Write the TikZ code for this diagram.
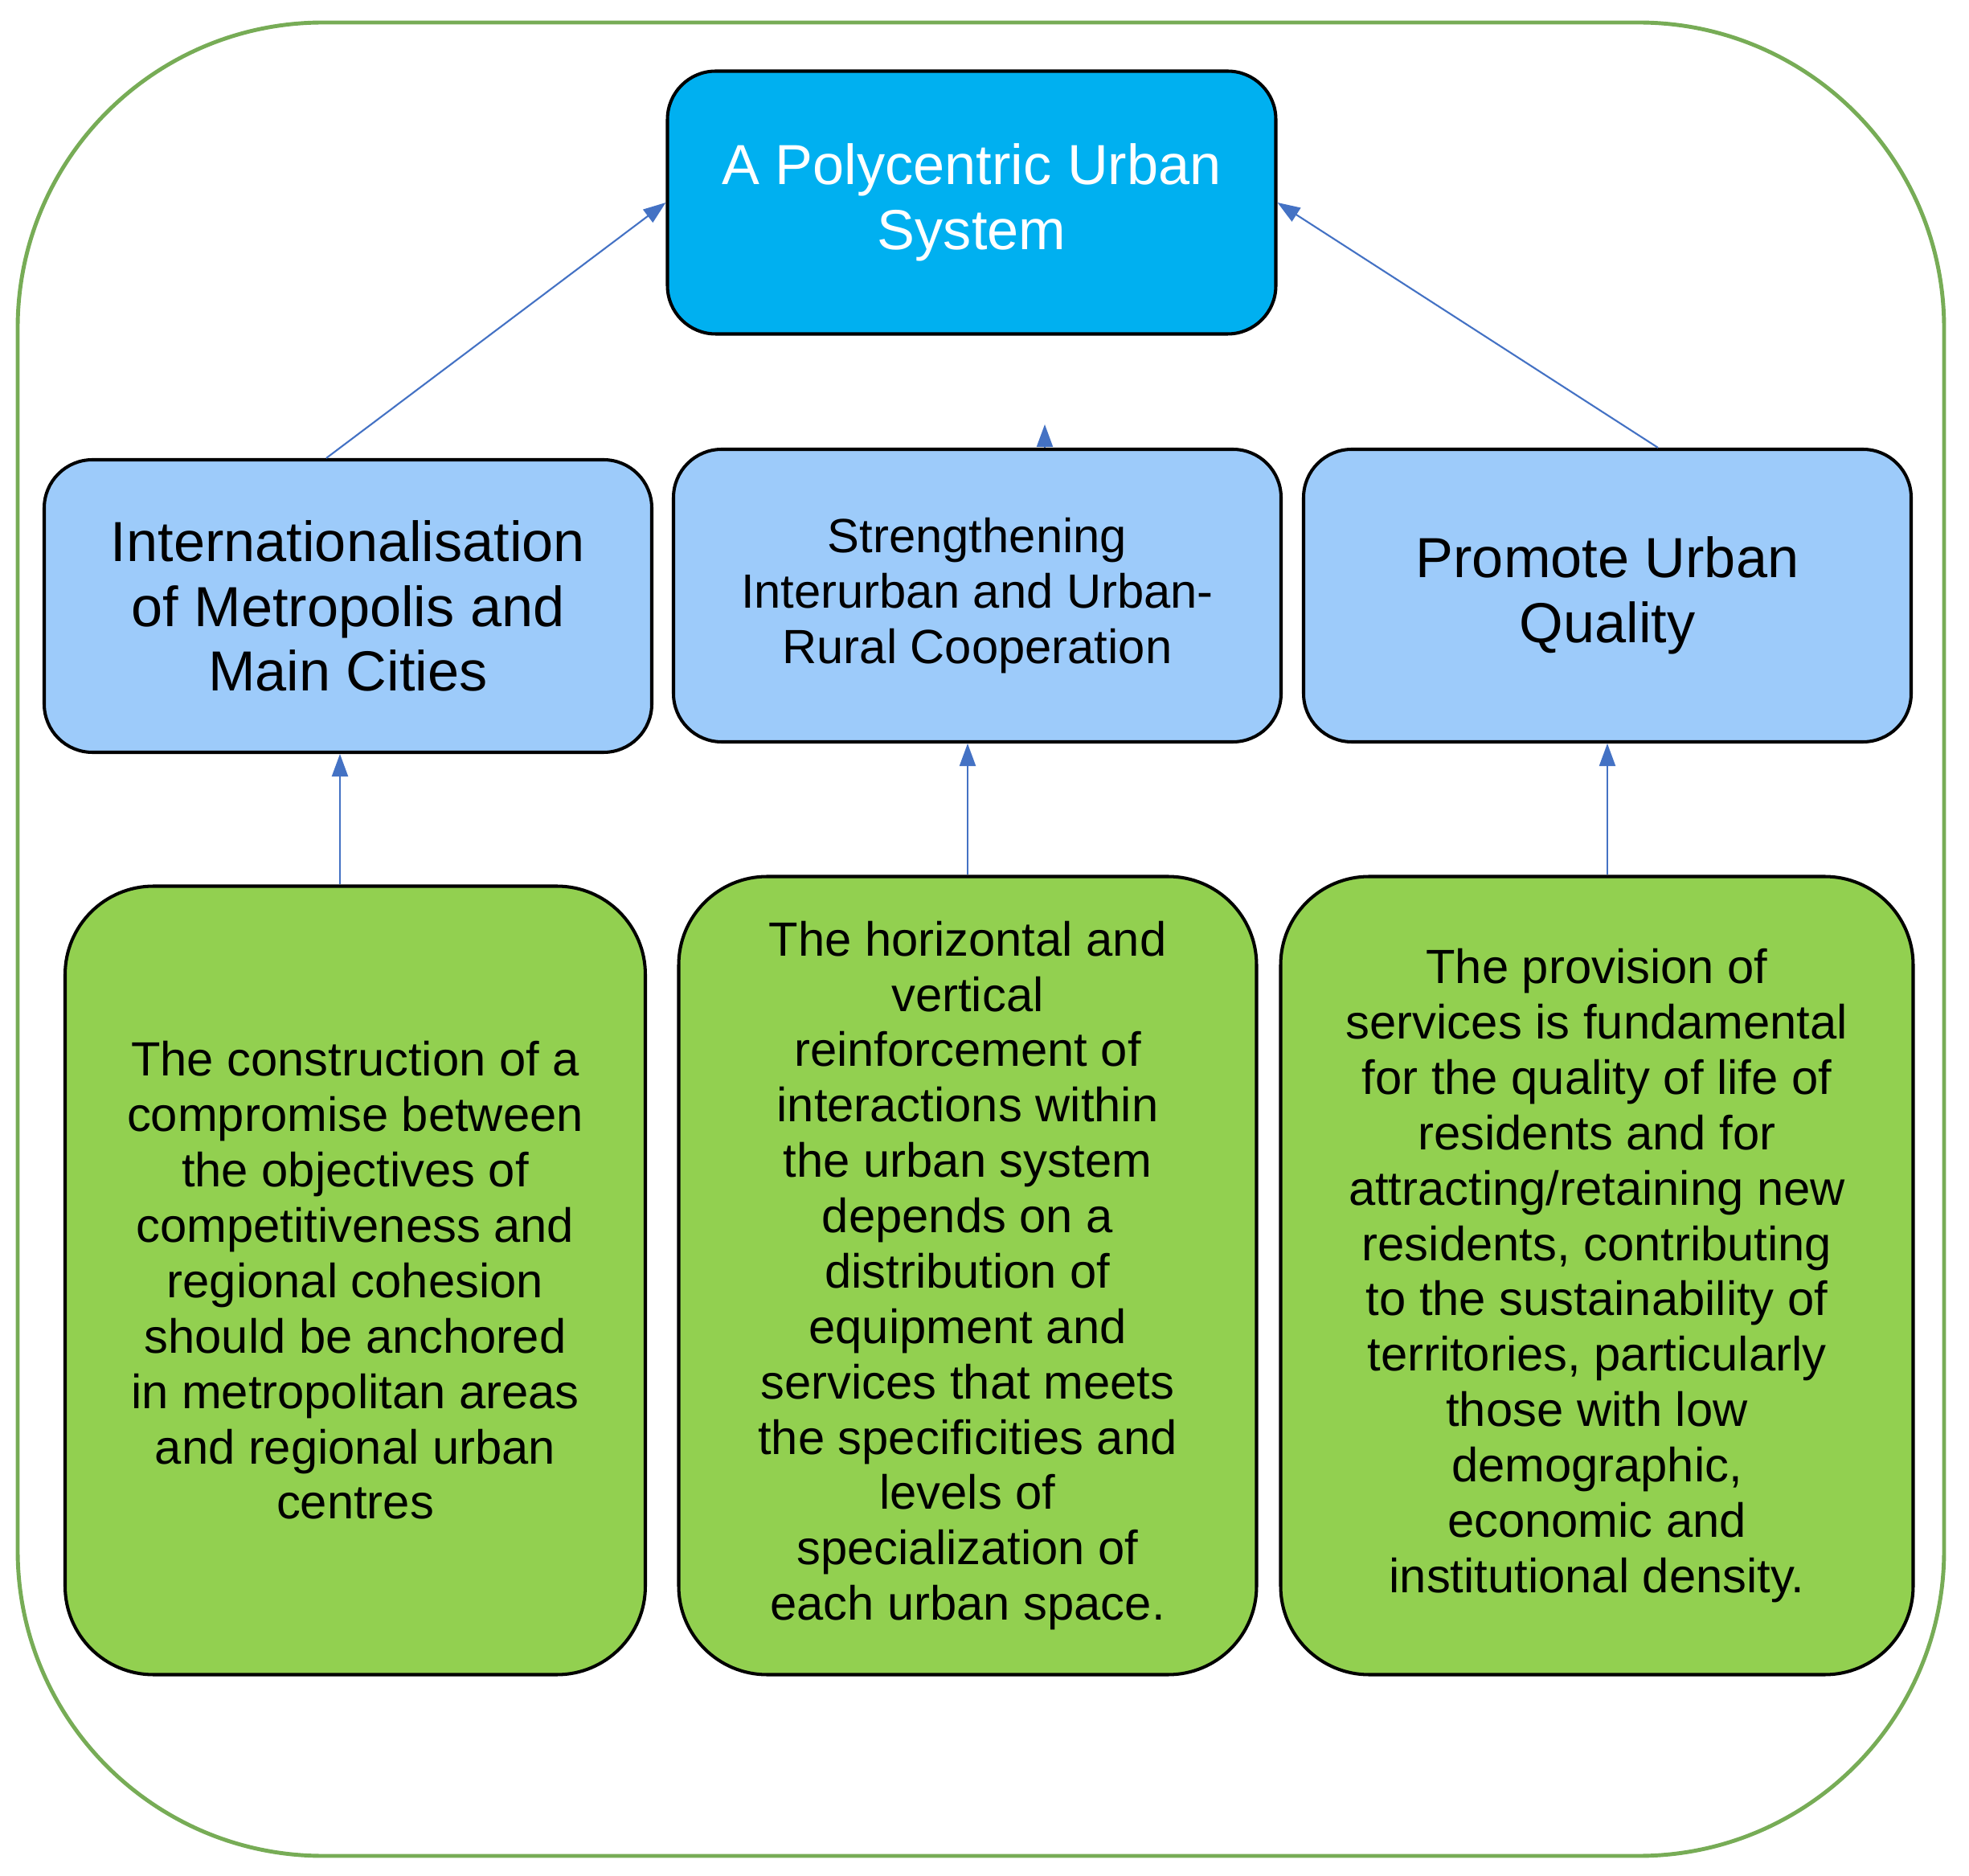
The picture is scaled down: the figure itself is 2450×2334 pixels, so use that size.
\documentclass[tikz,border=0pt]{standalone}
\usepackage{fontspec}
\setmainfont{Liberation Sans}
\usetikzlibrary{arrows.meta}
\definecolor{sysblue}{HTML}{00B0F0}
\definecolor{axisblue}{HTML}{9DCBFA}
\definecolor{leafgreen}{HTML}{92D050}
\definecolor{framegreen}{HTML}{77AC56}
\definecolor{arrowblue}{HTML}{4472C4}
\begin{document}
\begin{tikzpicture}[x=0.1mm, y=-0.1mm,
    box/.style={rectangle, draw, line width=1.15pt, align=center, inner sep=0pt},
    sysbox/.style={box, fill=sysblue, text=white, rounded corners=6mm, minimum width=75.7mm, minimum height=32.7mm, font=\fontsize{20}{23}\selectfont},
    axisbox/.style={box, fill=axisblue, rounded corners=6mm, minimum width=75.6mm, minimum height=36.4mm, font=\fontsize{20}{23}\selectfont},
    leafbox/.style={box, fill=leafgreen, rounded corners=11mm, minimum height=99.3mm, font=\fontsize{17}{19.6}\selectfont},
    arr/.style={draw=arrowblue, line width=0.6pt, -{Triangle[length=2.8mm, width=2mm]}}]
    \useasboundingbox (0,0) rectangle (2450,2334);
    % frame
    \draw[framegreen, line width=1.4pt, rounded corners=38mm] (22,28) rectangle (2419,2309);
    % top
    \node[sysbox] (sys) at (1209,252) {A Polycentric Urban\\System};
    % axes
    \node[axisbox] (ax1) at (433,754) {Internationalisation\\of Metropolis and\\Main Cities};
    \node[axisbox, font=\fontsize{17}{19.6}\selectfont] (ax2) at (1216,741) {Strengthening\\Interurban and Urban-\\Rural Cooperation};
    \node[axisbox] (ax3) at (2000,741) {Promote Urban\\Quality};
    % descriptions
    \node[leafbox, minimum width=72.2mm, minimum height=98.1mm] (d1) at (442,1593) {The construction of a\\compromise between\\the objectives of\\competitiveness and\\regional cohesion\\should be anchored\\in metropolitan areas\\and regional urban\\centres};
    \node[leafbox, minimum width=71.9mm] (d2) at (1204,1587) {The horizontal and\\vertical\\reinforcement of\\interactions within\\the urban system\\depends on a\\distribution of\\equipment and\\services that meets\\the specificities and\\levels of\\specialization of\\each urban space.};
    \node[leafbox, minimum width=78.7mm] (d3) at (1987,1587) {The provision of\\services is fundamental\\for the quality of life of\\residents and for\\attracting/retaining new\\residents, contributing\\to the sustainability of\\territories, particularly\\those with low\\demographic,\\economic and\\institutional density.};
    \coordinate (stub) at (1300,528);
    % arrows
    \draw[arr] ([xshift=-1mm]d1.north -| ax1.south) -- ([xshift=-1mm]ax1.south);
    \draw[arr] (d2.north) -- (d2.north |- ax2.south);
    \draw[arr] (d3.north -| ax3.south) -- (ax3.south);
    \draw[arr] ([xshift=-2.7mm]ax1.north) -- (sys.west);
    \draw[arr] ([xshift=6.3mm]ax3.north) -- (sys.east);
    \draw[arr] (ax2.north -| stub) -- (stub);
\end{tikzpicture}
\end{document}
